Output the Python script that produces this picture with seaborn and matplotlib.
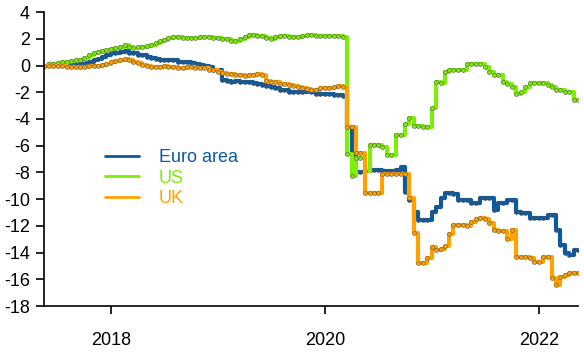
import pandas as pd
import matplotlib
matplotlib.use("Agg")
import matplotlib.pyplot as plt
import matplotlib.dates as mdates
from matplotlib.lines import Line2D
import seaborn as sns

# semi-monthly observations, mid-May 2017 to mid-May 2022
dates = pd.date_range("2017-05-15", "2022-05-15", freq="SMS")

euro_area = [
    0.0, 0.1, 0.15, 0.15, 0.15, 0.15, 0.05, 0.05, 0.15, 0.2,
    0.3, 0.4, 0.5, 0.65, 0.8, 0.9, 0.95, 1.0, 1.05, 0.95,
    0.9, 0.8, 0.75, 0.6, 0.55, 0.5, 0.45, 0.45, 0.4, 0.4,
    0.3, 0.25, 0.25, 0.2, 0.15, 0.05, 0.0, -0.1, -0.3, -0.35,
    -1.1, -1.15, -1.2, -1.15, -1.2, -1.2, -1.2, -1.3, -1.4, -1.45,
    -1.5, -1.6, -1.7, -1.8, -1.85, -1.95, -1.95, -2.0, -1.95, -1.9,
    -2.0, -2.1, -2.1, -2.1, -2.15, -2.2, -2.2, -2.25, -4.6, -6.6,
    -8.0, -7.95, -7.9, -7.85, -7.8, -7.85, -7.9, -7.9, -7.9, -7.85,
    -7.6, -9.5, -10.05, -11.0, -11.56, -11.56, -11.56, -11.0, -10.6, -9.94,
    -9.56, -9.56, -9.6, -10.05, -10.05, -10.05, -10.26, -10.26, -9.94, -9.94,
    -9.94, -10.8, -10.3, -10.3, -10.05, -10.05, -10.94, -11.06, -11.06, -11.4,
    -11.4, -11.4, -11.4, -11.2, -11.2, -12.3, -13.4, -14.0, -14.2, -13.8,
    -13.8,
]

us = [
    0.0, 0.1, 0.15, 0.2, 0.3, 0.3, 0.35, 0.4, 0.45, 0.55,
    0.75, 0.9, 1.0, 1.05, 1.15, 1.25, 1.3, 1.35, 1.5, 1.35,
    1.3, 1.35, 1.4, 1.45, 1.55, 1.65, 1.8, 1.9, 2.05, 2.1,
    2.1, 2.05, 2.05, 2.05, 2.05, 2.1, 2.1, 2.15, 2.05, 2.05,
    2.0, 1.95, 1.8, 1.85, 1.95, 2.15, 2.3, 2.25, 2.2, 2.2,
    2.05, 1.95, 2.1, 2.2, 2.2, 2.15, 2.15, 2.15, 2.2, 2.25,
    2.25, 2.2, 2.2, 2.2, 2.2, 2.2, 2.2, 2.15, -6.6, -8.3,
    -6.9, -6.9, -7.9, -5.95, -5.95, -5.95, -6.1, -6.7, -6.7, -5.2,
    -5.2, -4.4, -3.95, -4.5, -4.5, -4.6, -4.6, -3.2, -1.2, -1.3,
    -0.45, -0.35, -0.35, -0.35, -0.3, 0.15, 0.15, 0.15, 0.1, -0.1,
    -0.45, -0.7, -0.7, -1.2, -1.4, -1.6, -2.1, -2.0, -1.6, -1.3,
    -1.3, -1.3, -1.3, -1.45, -1.6, -1.83, -1.85, -1.95, -2.0, -2.6,
    -2.6,
]

uk = [
    0.0, 0.0, -0.05, -0.05, -0.05, -0.1, -0.1, -0.1, -0.1, -0.1,
    -0.05, -0.05, -0.05, 0.05, 0.15, 0.25, 0.35, 0.45, 0.5, 0.4,
    0.3, 0.2, 0.05, -0.05, -0.1, -0.1, -0.1, -0.05, -0.1, -0.1,
    -0.15, -0.15, -0.1, -0.1, -0.15, -0.15, -0.2, -0.3, -0.35, -0.45,
    -0.55, -0.6, -0.65, -0.7, -0.7, -0.75, -0.7, -0.7, -0.65, -0.7,
    -1.15, -1.2, -1.25, -1.35, -1.4, -1.45, -1.5, -1.6, -1.65, -1.75,
    -1.85, -1.8, -1.7, -1.7, -1.65, -1.6, -1.55, -1.6, -4.58, -4.58,
    -6.57, -6.57, -9.56, -9.56, -9.56, -9.56, -8.1, -8.1, -8.1, -8.1,
    -8.1, -8.1, -9.9, -12.5, -14.8, -14.8, -14.4, -13.6, -13.8, -13.7,
    -13.5, -12.6, -11.9, -11.9, -11.9, -12.0, -11.7, -11.5, -11.4, -11.5,
    -11.8, -12.3, -12.4, -12.4, -13.0, -12.3, -14.3, -14.3, -14.3, -14.4,
    -14.7, -14.7, -14.3, -14.3, -15.9, -16.4, -15.8, -15.7, -15.55, -15.55,
    -15.55,
]

series_names = ["Euro area", "US", "UK"]
colors = ["#0a5aa3", "#7fec0a", "#ffa200"]

df = pd.concat(
    [pd.DataFrame({"date": dates, "value": vals, "series": name})
     for name, vals in zip(series_names, [euro_area, us, uk])],
    ignore_index=True,
)

sns.set_style("ticks")
plt.rcParams["font.family"] = ["Liberation Sans", "DejaVu Sans"]
plt.rcParams["font.size"] = 13
plt.rcParams["axes.unicode_minus"] = False

fig, ax = plt.subplots(figsize=(5.84, 3.55), dpi=100)
fig.subplots_adjust(left=0.075, right=0.99, top=0.966, bottom=0.138)

sns.lineplot(
    data=df, x="date", y="value", hue="series", hue_order=series_names,
    palette=dict(zip(series_names, colors)), estimator=None, sort=False,
    drawstyle="steps-post", linewidth=3.0, marker="o", markersize=2.8,
    markeredgecolor="#555555", markeredgewidth=0.4, legend=False, ax=ax,
)

ax.set_xlim(dates[0], dates[-1])
ax.set_ylim(-18, 4)
ax.set_yticks(range(-18, 5, 2))
ax.xaxis.set_major_locator(mdates.YearLocator(2))
ax.xaxis.set_major_formatter(mdates.DateFormatter("%Y"))
ax.set_xlabel("")
ax.set_ylabel("")

sns.despine(ax=ax)
for side in ["left", "bottom"]:
    ax.spines[side].set_color("black")
    ax.spines[side].set_linewidth(1.2)
ax.tick_params(axis="y", direction="out", length=6, width=1.2, pad=4, colors="black")
ax.tick_params(axis="x", direction="out", length=6, width=1.2, pad=13, colors="black")

handles = [Line2D([], [], color=c, lw=2) for c in colors]
leg = ax.legend(
    handles, series_names, frameon=False, loc="center left",
    bbox_to_anchor=(0.114, 0.435), handlelength=1.9, handletextpad=1.1,
    labelspacing=0.2, borderpad=0, borderaxespad=0,
)
for txt, c in zip(leg.get_texts(), colors):
    txt.set_color(c)

fig.savefig("out.png", dpi=100)
